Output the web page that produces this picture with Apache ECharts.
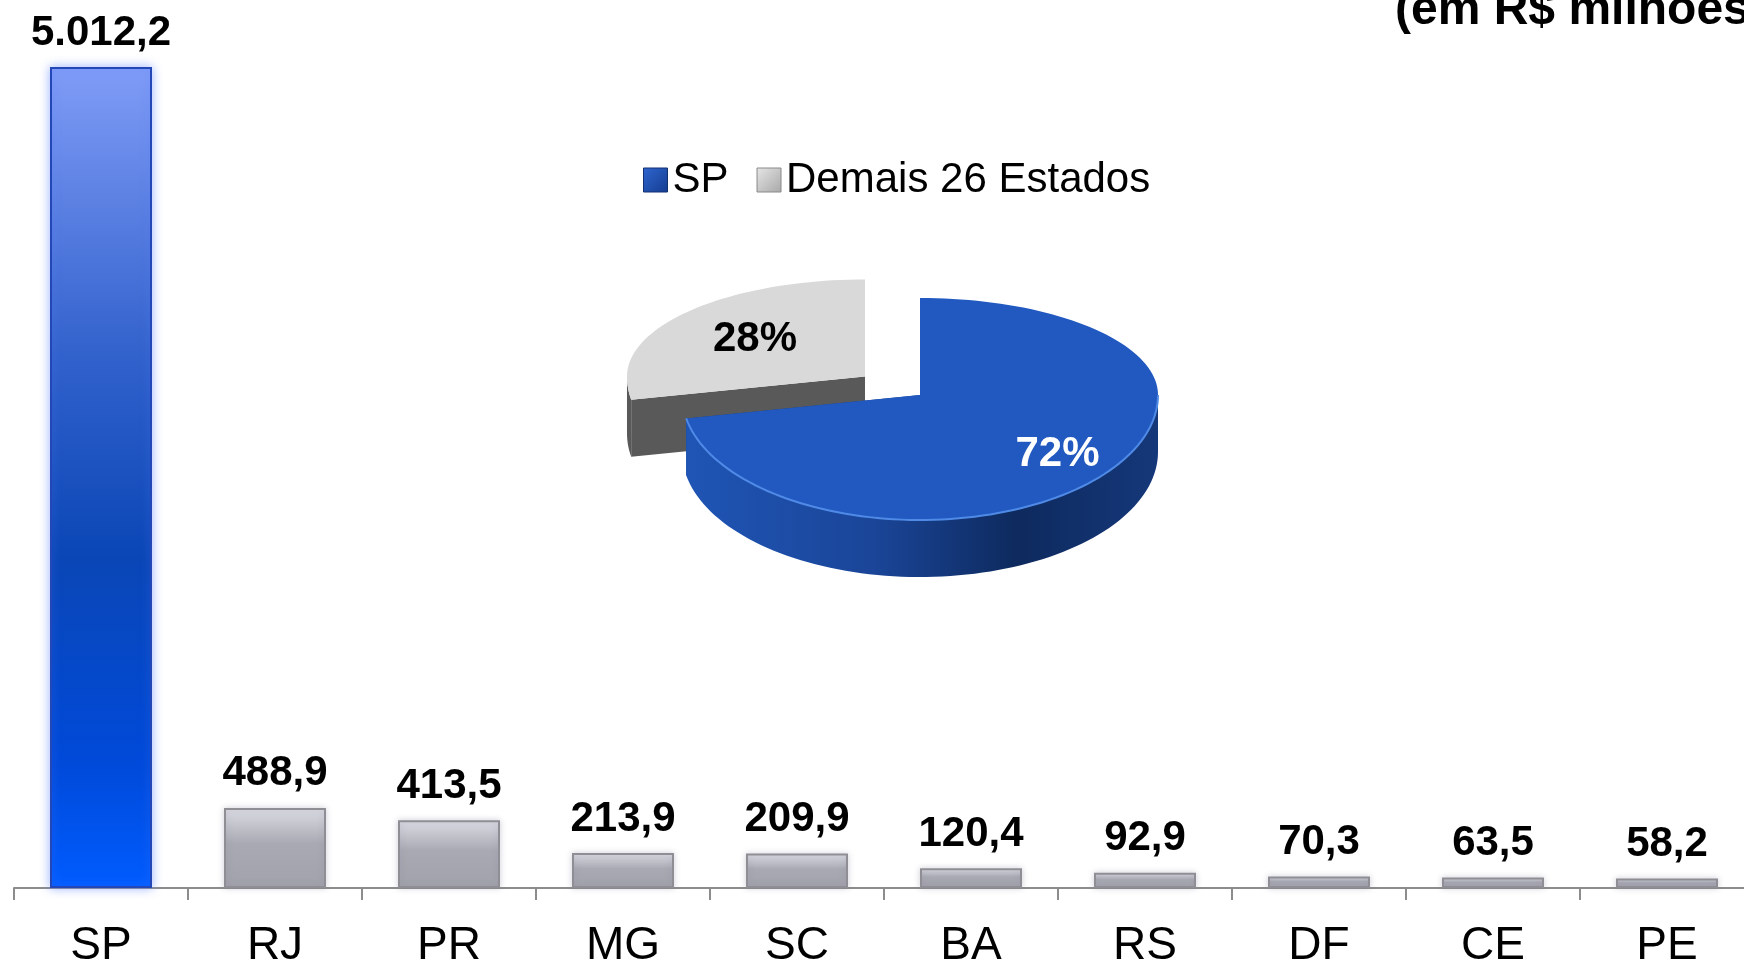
<!DOCTYPE html>
<html>
<head>
    <meta charset="utf-8">
    <title>Arrecadação por estado</title>
    <style>
    html, body { margin: 0; padding: 0; background: #fff; overflow: hidden; }
    #main { width: 1744px; height: 962px; }
    </style>
    <script type="text/javascript" src="https://cdn.jsdelivr.net/npm/echarts@6/dist/echarts.min.js"></script>
</head>
<body>
    <div id="main"></div>
    <script>
    // dados das barras
    var categories = ['SP', 'RJ', 'PR', 'MG', 'SC', 'BA', 'RS', 'DF', 'CE', 'PE'];
    var values = [5012.2, 488.9, 413.5, 213.9, 209.9, 120.4, 92.9, 70.3, 63.5, 58.2];
    // dados da pizza (%)
    var pieNames = ['SP', 'Demais 26 Estados'];
    var pieValues = [72, 28];

    var FONT = 'Liberation Sans, Arial, sans-serif';

    // formato pt-BR: 5.012,2
    function fmt(v) {
        var p = v.toFixed(1).split('.');
        return p[0].replace(/\B(?=(\d{3})+(?!\d))/g, '.') + ',' + p[1];
    }

    var spStyle = {
        color: new echarts.graphic.LinearGradient(0, 0, 0, 1, [
            { offset: 0, color: '#809cf7' },
            { offset: 0.35, color: '#3262cc' },
            { offset: 0.6, color: '#0a46b6' },
            { offset: 0.85, color: '#004ada' },
            { offset: 1, color: '#005cff' }
        ]),
        borderColor: '#2447b8',
        borderWidth: 2,
        shadowBlur: 10,
        shadowColor: 'rgba(90,130,255,0.55)'
    };
    var otherStyle = {
        color: new echarts.graphic.LinearGradient(0, 0, 0, 1, [
            { offset: 0, color: '#dcdce4' },
            { offset: 0.45, color: '#a9a9b3' },
            { offset: 1, color: '#a2a2ac' }
        ]),
        borderColor: '#8e8e94',
        borderWidth: 2,
        shadowBlur: 6,
        shadowColor: 'rgba(120,120,150,0.3)'
    };

    var barData = values.map(function (v, i) {
        return { value: v, itemStyle: i === 0 ? spStyle : otherStyle };
    });

    // pizza "3D" desenhada com série custom (elipse achatada)
    var pieCX = 920, pieCY = 395, pieRx = 238, pieRyTop = 97, pieRyBot = 125, pieDepth = 57;
    var pieStyles = [
        {
            top: '#2159c0',
            side: new echarts.graphic.LinearGradient(0, 0, 1, 0, [
                { offset: 0, color: '#1f55b5' },
                { offset: 0.4, color: '#1a4598' },
                { offset: 0.7, color: '#0e2a5e' },
                { offset: 1, color: '#15387a' }
            ]),
            face: '#173f88', rim: '#4f8ae6', label: '#fff', explode: 0, labelR: 0.75
        },
        { top: '#d9d9d9', side: '#595959', face: '#595959', rim: null, label: '#000', explode: 0.3, labelR: 0.6 }
    ];

    function ellipse(a) {
        var r = a * Math.PI / 180, s = Math.sin(r);
        return [pieCX + pieRx * Math.cos(r), pieCY - (s > 0 ? pieRyTop : pieRyBot) * s];
    }

    function makeSlice(i) {
        return function (params, api) {
            var total = 0, before = 0;
            pieValues.forEach(function (v, j) { total += v; if (j < i) before += v; });
            var v = api.value(0);
            var a1 = 90 - 360 * before / total;
            var a0 = a1 - 360 * v / total;
            var mid = (a0 + a1) / 2;
            var st = pieStyles[i];
            var m = ellipse(mid);
            var ox = (m[0] - pieCX) * st.explode, oy = (m[1] - pieCY) * st.explode;
            var apex = [pieCX + ox, pieCY + oy];
            var pt = function (a) { var p = ellipse(a); return [p[0] + ox, p[1] + oy]; };
            var arc = function (from, to) {
                var n = Math.ceil(Math.abs(to - from) / 2) + 1, out = [];
                for (var k = 0; k <= n; k++) out.push(pt(from + (to - from) * k / n));
                return out;
            };
            var children = [];
            [a0, a1].forEach(function (a) {
                var p = pt(a);
                children.push({ type: 'polygon', shape: { points: [apex, p, [p[0], p[1] + pieDepth], [apex[0], apex[1] + pieDepth]] }, style: { fill: st.face } });
            });
            var s0 = Math.max(a0, -180), s1 = Math.min(a1, 0);
            if (s1 > s0) {
                var topArc = arc(s0, s1);
                var bottom = topArc.map(function (p) { return [p[0], p[1] + pieDepth]; }).reverse();
                children.push({ type: 'polygon', shape: { points: topArc.concat(bottom) }, style: { fill: st.side } });
            }
            children.push({ type: 'polygon', shape: { points: [apex].concat(arc(a0, a1)) }, style: { fill: st.top } });
            if (st.rim && s1 > s0) {
                children.push({ type: 'polyline', shape: { points: arc(s0, s1) }, style: { stroke: st.rim, lineWidth: 2, fill: null } });
            }
            children.push({
                type: 'text',
                x: apex[0] + (m[0] - pieCX) * st.labelR,
                y: apex[1] + (m[1] - pieCY) * st.labelR,
                style: {
                    text: v + '%', fill: st.label, align: 'center', verticalAlign: 'middle',
                    fontSize: 42, fontWeight: 'bold', fontFamily: FONT
                }
            });
            return { type: 'group', children: children };
        };
    }

    option = {
        backgroundColor: '#fff',
        animation: false,
        title: {
            text: '(em R$ milhões)',
            left: 1390,
            top: -18,
            textStyle: { fontSize: 48, fontWeight: 'bold', color: '#000', fontFamily: FONT }
        },
        legend: {
            data: [
                { name: 'SP', itemStyle: { color: new echarts.graphic.LinearGradient(0, 0, 1, 1, [{ offset: 0, color: '#2f66d0' }, { offset: 1, color: '#143c90' }]), borderColor: '#12306e', borderWidth: 1 } },
                { name: 'Demais 26 Estados', itemStyle: { color: new echarts.graphic.LinearGradient(0, 0, 1, 1, [{ offset: 0, color: '#e6e6e6' }, { offset: 1, color: '#a8a8a8' }]), borderColor: '#8a8a8a', borderWidth: 1 } }
            ],
            left: 638,
            top: 154,
            icon: 'rect',
            itemWidth: 24,
            itemHeight: 24,
            itemGap: 28,
            selectedMode: false,
            textStyle: { fontSize: 42, color: '#000', fontFamily: FONT }
        },
        grid: { left: 14, right: -10, top: 67, bottom: 74, outerBoundsMode: 'none' },
        xAxis: {
            type: 'category',
            data: categories,
            axisLine: { show: true, lineStyle: { color: '#8c8c8c', width: 2 } },
            axisTick: { show: true, interval: 0, length: 12, lineStyle: { color: '#8c8c8c', width: 2 } },
            axisLabel: { fontSize: 46, color: '#000', margin: 35, fontFamily: FONT }
        },
        yAxis: {
            type: 'value',
            min: 0,
            max: 'dataMax',
            show: false,
            splitLine: { show: false }
        },
        series: [{
            name: 'Valor',
            type: 'bar',
            barWidth: 102,
            data: barData,
            label: {
                show: true,
                position: 'top',
                distance: 13,
                fontSize: 42,
                fontWeight: 'bold',
                color: '#000',
                fontFamily: FONT,
                formatter: function (p) { return fmt(p.value); }
            }
        }, {
            name: pieNames[1],
            type: 'custom',
            coordinateSystem: 'none',
            silent: true,
            z: 3,
            data: [pieValues[1]],
            renderItem: makeSlice(1)
        }, {
            name: pieNames[0],
            type: 'custom',
            coordinateSystem: 'none',
            silent: true,
            z: 4,
            data: [pieValues[0]],
            renderItem: makeSlice(0)
        }]
    };

    var myChart = echarts.init(document.getElementById('main'));
    myChart.setOption(option);
    </script>
</body>
</html>
